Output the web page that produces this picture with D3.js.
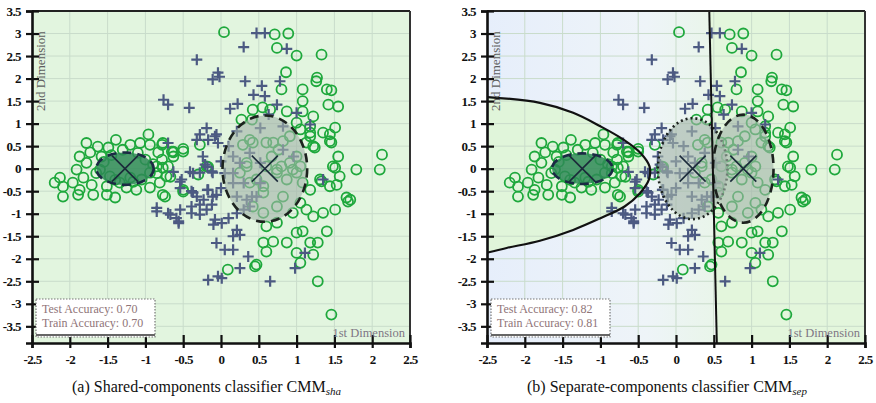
<!DOCTYPE html>
<html lang="en">
<head>
<meta charset="utf-8">
<script src="https://cdn.jsdelivr.net/npm/d3@7"></script>
<style>
  body { margin: 0; background: #fff; }
  svg text { font-family: "Liberation Serif", "DejaVu Serif", serif; }
</style>
</head>
<body>
<svg id="fig" width="876" height="403"></svg>
<script>
// ---- data ----
var xTicks = [-2.5, -2, -1.5, -1, -0.5, 0, 0.5, 1, 1.5, 2, 2.5];
var yTicks = [3.5, 3, 2.5, 2, 1.5, 1, 0.5, 0, -0.5, -1, -1.5, -2, -2.5, -3, -3.5];

// class 1 (green circles)
var circlePts = [
  [-0.96,0.76],[-1.39,0.64],[-1.78,0.57],[-1.63,0.49],[-1.49,0.47],[-1.07,0.57],[-0.94,0.53],
  [-0.65,0.38],[-0.50,0.44],[-1.20,0.53],[-1.30,0.42],[-1.87,0.27],[-1.78,0.13],[-1.91,-0.02],
  [-2.13,-0.20],[-2.09,-0.40],[-2.20,-0.31],[-1.96,-0.31],[-1.87,-0.47],[-2.09,-0.62],[-1.89,-0.58],
  [-1.71,-0.36],[-1.69,-0.58],[-1.51,-0.58],[-1.40,-0.64],[-1.25,-0.42],[-1.12,-0.47],[-0.94,-0.42],
  [-0.77,-0.58],[-0.81,-0.31],[-0.67,-0.18],[-0.50,-0.51],[-0.78,0.20],[-0.77,0.02],[-0.63,0.27],
  [-1.73,0.36],[-1.58,0.27],[-1.47,-0.17],[-1.60,-0.02],[-1.05,-0.24],[-0.94,-0.09],[-1.82,-0.20],
  [-1.51,-0.39],[-1.34,-0.31],[-1.16,-0.29],[-0.83,0.36],[-1.55,0.15],[-1.00,0.20],[-0.90,0.10],
  [-1.65,-0.10],[-0.85,-0.10],[-1.45,0.30],[-1.10,0.35],[-1.20,-0.20],[-1.40,-0.25],[-0.70,0.05],
  [-0.63,0.38],[-0.50,0.38],[-0.17,0.04],[-0.50,-0.47],[-0.77,0.57],[-0.78,0.53],[-0.63,0.36],
  [-0.85,0.05],[-0.72,-0.17],[-0.74,-0.62],[-0.30,-0.13],[-0.28,0.53],
  [0.04,3.03],[0.71,2.98],[0.89,3.00],[0.74,2.68],[1.00,2.51],[1.33,2.53],[0.86,2.14],[0.80,1.76],
  [1.08,1.76],[1.27,2.02],[1.26,1.94],[1.40,1.76],[1.46,1.74],[1.08,1.50],[1.42,1.42],[1.55,1.38],
  [0.42,1.31],[0.55,1.36],[0.65,1.31],[0.87,1.27],[1.08,1.27],[1.22,1.16],[0.27,1.09],[0.41,1.09],
  [1.00,1.02],[1.18,0.94],[1.51,0.91],[1.44,0.76],[1.44,0.61],[1.24,0.47],[1.55,0.27],[1.51,0.02],
  [1.79,-0.02],[2.10,-0.02],[2.13,0.31],[1.57,-0.17],[1.33,-0.28],[1.53,-0.36],[1.66,-0.64],
  [1.18,-0.47],[1.05,0.05],[0.69,0.58],[0.76,0.42],[0.67,0.27],[0.80,0.05],[0.60,0.05],[0.74,-0.09],
  [0.87,-0.24],[0.95,-0.02],[1.00,0.27],[1.13,0.58],[1.18,0.80],[1.05,0.87],[0.42,0.58],[0.34,0.05],
  [0.38,-0.31],[0.56,-0.39],[0.25,-0.09],[-0.19,0.05],[0.38,0.64],[0.29,0.53],[0.60,0.58],
  [0.82,0.61],[0.91,0.72],[1.18,0.72],[1.22,0.50],[1.46,0.58],[1.35,0.80],[1.48,0.05],[1.31,-0.24],
  [1.44,-0.39],[1.71,-0.69],[1.05,-0.76],[0.95,-0.98],[1.13,-0.91],[1.22,-1.06],[1.35,-0.98],
  [1.51,-0.91],[0.82,-0.62],[0.56,-0.53],[0.42,-0.84],[0.56,-0.98],[0.74,-0.84],[0.34,0.13],
  [0.47,-0.24],[0.74,-0.02],[0.91,0.13],[1.00,-0.09],[1.08,-0.31],[0.60,-1.28],[0.74,-1.20],
  [0.56,-1.64],[0.69,-1.62],[0.87,-1.64],[0.60,-1.84],[1.00,-1.42],[1.08,-1.39],[1.18,-1.64],
  [1.28,-1.64],[1.40,-1.39],[1.00,-1.87],[1.05,-2.09],[1.22,-1.91],[0.47,-2.13],[0.45,-2.17],
  [0.09,-2.24],[1.28,-2.50],[1.46,-3.24],[1.68,-0.73]
];

// class 2 (slate crosses)
var crossPts = [
  [0.47,3.01],[0.58,3.01],[0.87,2.66],[0.30,2.70],[-0.32,2.42],[-0.04,2.13],[-0.11,1.98],[0.32,1.94],
  [0.54,1.84],[0.78,1.94],[0.43,1.64],[0.58,1.61],[-0.76,1.53],[-0.70,1.42],[-0.42,1.35],[0.12,1.33],
  [0.22,1.44],[0.74,1.42],[1.00,1.24],[1.18,0.98],[-0.19,0.90],[-0.28,0.76],[-0.06,0.76],[0.21,0.83],
  [0.52,0.90],[0.82,0.94],[-0.32,0.64],[-0.08,0.72],[-0.70,0.57],[-0.24,0.27],[-0.18,0.04],
  [-0.11,-0.09],[-0.28,-0.09],[-0.41,-0.07],[-0.63,-0.07],[-0.54,-0.29],[-0.37,-0.53],[-0.18,-0.47],
  [-0.11,-0.62],[-0.85,-0.95],[-0.67,-1.02],[-0.56,-1.17],[-0.54,-0.91],[-0.39,-0.99],[-0.28,-0.80],
  [-0.12,-0.80],[-0.10,-1.24],[-0.17,-2.47],[-0.04,-2.39],[-0.17,0.64],[-0.04,0.57],[-0.21,0.09],
  [-0.12,-0.06],[0.00,0.16],[0.05,-0.10],[0.16,-0.10],[-0.37,-0.10],[-0.52,-0.24],[-0.54,-0.43],
  [-0.39,-0.50],[-0.32,-0.62],[-0.23,-0.69],[-0.17,-0.47],[-0.06,-0.58],[0.00,-0.43],[-0.85,-0.87],
  [-0.70,-0.99],[-0.59,-1.10],[-0.39,-0.84],[-0.28,-1.02],[-0.19,-0.91],[-0.08,-1.13],[0.10,-1.10],
  [0.21,-0.99],[0.30,-0.91],[0.38,-0.84],[0.34,-0.69],[0.47,-0.62],[0.16,0.27],[0.25,0.13],
  [0.38,0.35],[0.52,0.13],[0.16,-0.32],[0.30,-0.32],[0.52,-0.32],[0.41,-0.62],[0.21,-0.62],
  [1.35,-0.24],[0.96,0.27],[0.82,0.42],[-0.56,-1.21],[0.01,-1.21],[0.21,-1.36],[0.25,-1.47],
  [0.16,-1.50],[-0.06,-1.65],[0.05,-1.80],[0.16,-1.80],[0.36,-1.95],[0.25,-2.21],[0.01,-2.43],
  [0.65,-2.50],[0.98,-2.21],[1.11,-1.87],[-0.02,2.04],[0.63,1.20],[0.10,0.50]
];

// gaussian components: centre and half-axes (data units)
var compsA = [
  {cx: -1.27, cy: 0.00, rx: 0.38, ry: 0.36},
  {cx: 0.58, cy: 0.00, rx: 0.56, ry: 1.18}
];
var compsB = [
  {cx: -1.24, cy: 0.00, rx: 0.40, ry: 0.34},
  {cx: 0.22, cy: 0.00, rx: 0.46, ry: 1.12},
  {cx: 0.89, cy: 0.00, rx: 0.40, ry: 1.20}
];

// decision boundary of panel (b)
var curveB = [
  [-2.49,1.59],[-1.80,1.46],[-1.36,1.24],[-1.00,0.94],[-0.69,0.64],[-0.47,0.35],[-0.35,0.05],
  [-0.36,-0.25],[-0.48,-0.55],[-0.68,-0.84],[-1.00,-1.10],[-1.36,-1.36],[-1.80,-1.60],[-2.24,-1.76],[-2.49,-1.86]
];
var lineB = [[0.44, 3.5], [0.54, -3.87]];

var accA = ["Test Accuracy: 0.70", "Train Accuracy: 0.70"];
var accB = ["Test Accuracy: 0.82", "Train Accuracy: 0.81"];

// ---- drawing ----
var svg = d3.select("#fig");
var defs = svg.append("defs");

var gb = defs.append("linearGradient").attr("id", "blueGrad");
gb.append("stop").attr("offset", "0%").attr("stop-color", "#e6eefb");
gb.append("stop").attr("offset", "70%").attr("stop-color", "#eef4f8");
gb.append("stop").attr("offset", "100%").attr("stop-color", "#e9f5ea");

function panel(left, comps, accTxt, caption, sub, isB) {
  var W = 378, top = 11, bottom = 343;
  var x = d3.scaleLinear().domain([-2.5, 2.5]).range([left, left + W]);
  var y = d3.scaleLinear().domain([-3.87, 3.5]).range([bottom, top]);
  var line = d3.line().x(function (d) { return x(d[0]); }).y(function (d) { return y(d[1]); });
  var g = svg.append("g");
  var clipId = "clip" + left;
  defs.append("clipPath").attr("id", clipId)
    .append("rect").attr("x", left).attr("y", top).attr("width", W).attr("height", bottom - top);

  var bg = g.append("g").attr("clip-path", "url(#" + clipId + ")");
  if (!isB) {
    bg.append("rect").attr("x", left).attr("y", top).attr("width", W).attr("height", bottom - top)
      .attr("fill", "#e2f5df");
  } else {
    bg.append("rect").attr("x", left).attr("y", top).attr("width", x(0.5) - left).attr("height", bottom - top)
      .attr("fill", "url(#blueGrad)");
    var inside = [[-2.6, curveB[0][1]]].concat(curveB).concat([[-2.6, curveB[curveB.length - 1][1]]]);
    bg.append("path").attr("d", line.curve(d3.curveCatmullRom)(inside) + "Z").attr("fill", "#e0f5da");
    var right = [lineB[0], [2.6, 3.5], [2.6, -3.87], lineB[1]];
    bg.append("path").attr("d", line.curve(d3.curveLinear)(right) + "Z").attr("fill", "#e3f6dc");
  }

  // grid
  bg.selectAll(".gx").data(xTicks).enter().append("line")
    .attr("x1", function (d) { return x(d); }).attr("x2", function (d) { return x(d); })
    .attr("y1", top).attr("y2", bottom).attr("stroke", "#c9dccb").attr("stroke-width", 1);
  bg.selectAll(".gy").data(yTicks).enter().append("line")
    .attr("y1", function (d) { return y(d); }).attr("y2", function (d) { return y(d); })
    .attr("x1", left).attr("x2", left + W).attr("stroke", "#c9dccb").attr("stroke-width", 1);

  // points
  bg.selectAll(".pc").data(circlePts).enter().append("circle")
    .attr("cx", function (d) { return x(d[0]); }).attr("cy", function (d) { return y(d[1]); })
    .attr("r", 5).attr("fill", "none").attr("stroke", "#1ea83c").attr("stroke-width", 1.8);
  bg.selectAll(".px").data(crossPts).enter().append("path")
    .attr("d", function (d) {
      var cx = x(d[0]), cy = y(d[1]);
      return "M" + (cx - 5.5) + "," + cy + "H" + (cx + 5.5) + "M" + cx + "," + (cy - 5.5) + "V" + (cy + 5.5);
    })
    .attr("stroke", "#4c5a82").attr("stroke-width", 2.2).attr("fill", "none");

  // components
  comps.forEach(function (c, i) {
    var dark = i === 0;
    bg.append("ellipse")
      .attr("cx", x(c.cx)).attr("cy", y(c.cy))
      .attr("rx", x(c.rx) - x(0)).attr("ry", y(0) - y(c.ry))
      .attr("fill", dark ? "#2e8a56" : "#a3b4a9").attr("fill-opacity", dark ? 0.85 : 0.62)
      .attr("stroke", dark ? "#1b2a44" : "#1c221e").attr("stroke-width", 2.6)
      .attr("stroke-dasharray", (isB && i === 1) ? "2,3" : "9,6");
    var s = 13;
    bg.append("path")
      .attr("d", "M" + (x(c.cx) - s) + "," + (y(c.cy) - s) + "L" + (x(c.cx) + s) + "," + (y(c.cy) + s) +
        "M" + (x(c.cx) + s) + "," + (y(c.cy) - s) + "L" + (x(c.cx) - s) + "," + (y(c.cy) + s))
      .attr("stroke", "#1b2a3a").attr("stroke-width", 1.6).attr("fill", "none");
  });

  if (isB) {
    bg.append("path").attr("d", line.curve(d3.curveCatmullRom)(curveB))
      .attr("fill", "none").attr("stroke", "#111").attr("stroke-width", 2.2);
    bg.append("line")
      .attr("x1", x(lineB[0][0])).attr("y1", y(lineB[0][1]))
      .attr("x2", x(lineB[1][0])).attr("y2", y(lineB[1][1]))
      .attr("stroke", "#111").attr("stroke-width", 2);
  }

  // frame top / right
  g.append("line").attr("x1", left).attr("x2", left + W).attr("y1", top).attr("y2", top)
    .attr("stroke", "#222").attr("stroke-width", 2);
  g.append("line").attr("x1", left + W).attr("x2", left + W).attr("y1", top).attr("y2", bottom)
    .attr("stroke", "#333").attr("stroke-width", 2);

  // axes
  var ax = g.append("g").attr("transform", "translate(0," + bottom + ")")
    .call(d3.axisBottom(x).tickValues(xTicks).tickFormat(function (d) { return String(d); }).tickSize(5).tickPadding(7));
  ax.selectAll(".tick line").attr("y1", -8).attr("y2", 5).attr("stroke-width", 2.2).attr("stroke", "#111");
  var ay = g.append("g").attr("transform", "translate(" + left + ",0)")
    .call(d3.axisLeft(y).tickValues(yTicks).tickFormat(function (d) { return String(d); }).tickSize(6).tickPadding(5));
  ay.selectAll(".tick line").attr("x1", -6).attr("x2", 7).attr("stroke-width", 2.2).attr("stroke", "#111");
  [ax, ay].forEach(function (a) {
    a.select(".domain").attr("stroke", "#111").attr("stroke-width", 2.6);
    a.selectAll(".tick text").style("font-family", "'Liberation Serif', serif").style("font-size", "13px")
      .style("font-weight", "bold").attr("fill", "#111").attr("letter-spacing", -0.6);
  });

  // axis names
  g.append("text").attr("transform", "translate(" + (left + 13) + "," + 111 + ") rotate(-90)")
    .attr("font-size", 13).attr("fill", "#5e5e5e").text("2nd Dimension");
  g.append("text").attr("x", left + W - 5).attr("y", bottom - 6).attr("text-anchor", "end")
    .attr("font-size", 12.5).attr("fill", "#7e7684").text("1st Dimension");

  // accuracy box
  var bx = left + 4, by = 299;
  g.append("rect").attr("x", bx).attr("y", by).attr("width", 119).attr("height", 38)
    .attr("fill", "#fff").attr("stroke", "#777").attr("stroke-width", 1.2).attr("stroke-dasharray", "1.5,1.5");
  g.append("line").attr("x1", bx).attr("x2", bx + 119).attr("y1", by + 36).attr("y2", by + 36)
    .attr("stroke", "#666").attr("stroke-width", 2);
  accTxt.forEach(function (t, i) {
    g.append("text").attr("x", bx + 6).attr("y", by + 14 + i * 14)
      .attr("font-size", 12).attr("fill", "#8f7478").text(t);
  });

  // caption
  var cap = svg.append("text").attr("x", left + 40).attr("y", 392).attr("font-size", 16).attr("fill", "#111");
  cap.append("tspan").text(caption);
  cap.append("tspan").attr("font-style", "italic").attr("font-size", 11).attr("dy", 3).text(sub);
}

panel(32, compsA, accA, "(a) Shared-components classifier CMM", "sha", false);
panel(487, compsB, accB, "(b) Separate-components classifier CMM", "sep", true);
</script>
</body>
</html>
